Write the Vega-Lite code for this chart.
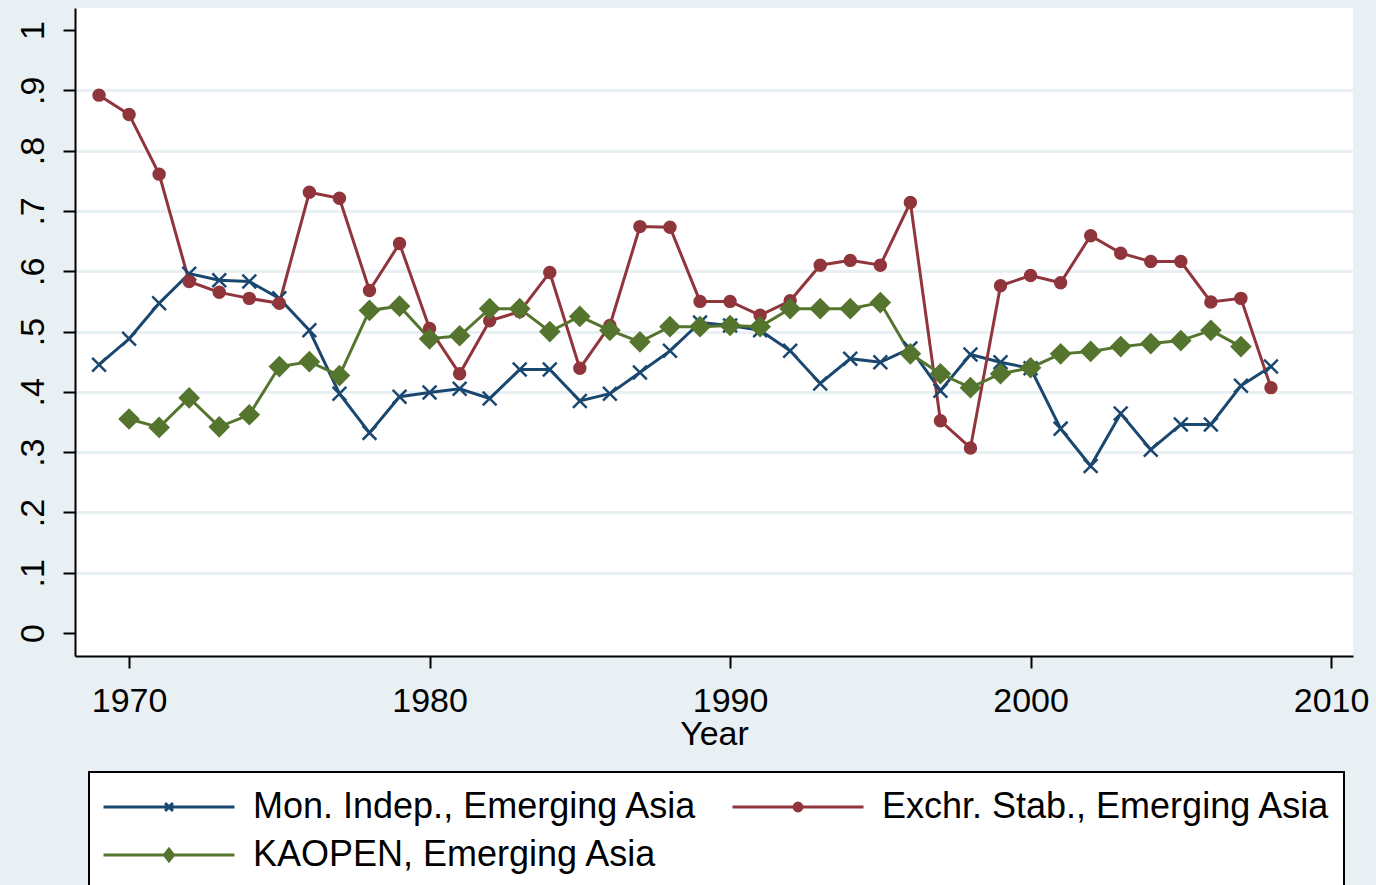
{
  "$schema": "https://vega.github.io/schema/vega-lite/v6.json",
  "width": 1278,
  "height": 648,
  "autosize": "none",
  "padding": {"left": 75, "top": 8, "right": 23, "bottom": 229},
  "background": "#e9f0f3",
  "config": {"font": "Liberation Sans", "view": {"fill": "white", "stroke": null}},
  "data": {"values": [
    {"year": 1969, "series": "Mon. Indep., Emerging Asia", "value": 0.445},
    {"year": 1970, "series": "Mon. Indep., Emerging Asia", "value": 0.488},
    {"year": 1971, "series": "Mon. Indep., Emerging Asia", "value": 0.547},
    {"year": 1972, "series": "Mon. Indep., Emerging Asia", "value": 0.596},
    {"year": 1973, "series": "Mon. Indep., Emerging Asia", "value": 0.585},
    {"year": 1974, "series": "Mon. Indep., Emerging Asia", "value": 0.583},
    {"year": 1975, "series": "Mon. Indep., Emerging Asia", "value": 0.555},
    {"year": 1976, "series": "Mon. Indep., Emerging Asia", "value": 0.502},
    {"year": 1977, "series": "Mon. Indep., Emerging Asia", "value": 0.397},
    {"year": 1978, "series": "Mon. Indep., Emerging Asia", "value": 0.332},
    {"year": 1979, "series": "Mon. Indep., Emerging Asia", "value": 0.392},
    {"year": 1980, "series": "Mon. Indep., Emerging Asia", "value": 0.399},
    {"year": 1981, "series": "Mon. Indep., Emerging Asia", "value": 0.405},
    {"year": 1982, "series": "Mon. Indep., Emerging Asia", "value": 0.389},
    {"year": 1983, "series": "Mon. Indep., Emerging Asia", "value": 0.437},
    {"year": 1984, "series": "Mon. Indep., Emerging Asia", "value": 0.437},
    {"year": 1985, "series": "Mon. Indep., Emerging Asia", "value": 0.385},
    {"year": 1986, "series": "Mon. Indep., Emerging Asia", "value": 0.397},
    {"year": 1987, "series": "Mon. Indep., Emerging Asia", "value": 0.432},
    {"year": 1988, "series": "Mon. Indep., Emerging Asia", "value": 0.468},
    {"year": 1989, "series": "Mon. Indep., Emerging Asia", "value": 0.515},
    {"year": 1990, "series": "Mon. Indep., Emerging Asia", "value": 0.510},
    {"year": 1991, "series": "Mon. Indep., Emerging Asia", "value": 0.502},
    {"year": 1992, "series": "Mon. Indep., Emerging Asia", "value": 0.468},
    {"year": 1993, "series": "Mon. Indep., Emerging Asia", "value": 0.414},
    {"year": 1994, "series": "Mon. Indep., Emerging Asia", "value": 0.455},
    {"year": 1995, "series": "Mon. Indep., Emerging Asia", "value": 0.449},
    {"year": 1996, "series": "Mon. Indep., Emerging Asia", "value": 0.472},
    {"year": 1997, "series": "Mon. Indep., Emerging Asia", "value": 0.402},
    {"year": 1998, "series": "Mon. Indep., Emerging Asia", "value": 0.462},
    {"year": 1999, "series": "Mon. Indep., Emerging Asia", "value": 0.449},
    {"year": 2000, "series": "Mon. Indep., Emerging Asia", "value": 0.439},
    {"year": 2001, "series": "Mon. Indep., Emerging Asia", "value": 0.339},
    {"year": 2002, "series": "Mon. Indep., Emerging Asia", "value": 0.277},
    {"year": 2003, "series": "Mon. Indep., Emerging Asia", "value": 0.364},
    {"year": 2004, "series": "Mon. Indep., Emerging Asia", "value": 0.304},
    {"year": 2005, "series": "Mon. Indep., Emerging Asia", "value": 0.346},
    {"year": 2006, "series": "Mon. Indep., Emerging Asia", "value": 0.346},
    {"year": 2007, "series": "Mon. Indep., Emerging Asia", "value": 0.410},
    {"year": 2008, "series": "Mon. Indep., Emerging Asia", "value": 0.442},
    {"year": 1969, "series": "Exchr. Stab., Emerging Asia", "value": 0.892},
    {"year": 1970, "series": "Exchr. Stab., Emerging Asia", "value": 0.860},
    {"year": 1971, "series": "Exchr. Stab., Emerging Asia", "value": 0.761},
    {"year": 1972, "series": "Exchr. Stab., Emerging Asia", "value": 0.583},
    {"year": 1973, "series": "Exchr. Stab., Emerging Asia", "value": 0.565},
    {"year": 1974, "series": "Exchr. Stab., Emerging Asia", "value": 0.555},
    {"year": 1975, "series": "Exchr. Stab., Emerging Asia", "value": 0.547},
    {"year": 1976, "series": "Exchr. Stab., Emerging Asia", "value": 0.731},
    {"year": 1977, "series": "Exchr. Stab., Emerging Asia", "value": 0.721},
    {"year": 1978, "series": "Exchr. Stab., Emerging Asia", "value": 0.568},
    {"year": 1979, "series": "Exchr. Stab., Emerging Asia", "value": 0.646},
    {"year": 1980, "series": "Exchr. Stab., Emerging Asia", "value": 0.505},
    {"year": 1981, "series": "Exchr. Stab., Emerging Asia", "value": 0.430},
    {"year": 1982, "series": "Exchr. Stab., Emerging Asia", "value": 0.518},
    {"year": 1983, "series": "Exchr. Stab., Emerging Asia", "value": 0.533},
    {"year": 1984, "series": "Exchr. Stab., Emerging Asia", "value": 0.598},
    {"year": 1985, "series": "Exchr. Stab., Emerging Asia", "value": 0.439},
    {"year": 1986, "series": "Exchr. Stab., Emerging Asia", "value": 0.510},
    {"year": 1987, "series": "Exchr. Stab., Emerging Asia", "value": 0.674},
    {"year": 1988, "series": "Exchr. Stab., Emerging Asia", "value": 0.673},
    {"year": 1989, "series": "Exchr. Stab., Emerging Asia", "value": 0.550},
    {"year": 1990, "series": "Exchr. Stab., Emerging Asia", "value": 0.550},
    {"year": 1991, "series": "Exchr. Stab., Emerging Asia", "value": 0.527},
    {"year": 1992, "series": "Exchr. Stab., Emerging Asia", "value": 0.551},
    {"year": 1993, "series": "Exchr. Stab., Emerging Asia", "value": 0.610},
    {"year": 1994, "series": "Exchr. Stab., Emerging Asia", "value": 0.618},
    {"year": 1995, "series": "Exchr. Stab., Emerging Asia", "value": 0.610},
    {"year": 1996, "series": "Exchr. Stab., Emerging Asia", "value": 0.714},
    {"year": 1997, "series": "Exchr. Stab., Emerging Asia", "value": 0.352},
    {"year": 1998, "series": "Exchr. Stab., Emerging Asia", "value": 0.307},
    {"year": 1999, "series": "Exchr. Stab., Emerging Asia", "value": 0.576},
    {"year": 2000, "series": "Exchr. Stab., Emerging Asia", "value": 0.593},
    {"year": 2001, "series": "Exchr. Stab., Emerging Asia", "value": 0.581},
    {"year": 2002, "series": "Exchr. Stab., Emerging Asia", "value": 0.659},
    {"year": 2003, "series": "Exchr. Stab., Emerging Asia", "value": 0.630},
    {"year": 2004, "series": "Exchr. Stab., Emerging Asia", "value": 0.616},
    {"year": 2005, "series": "Exchr. Stab., Emerging Asia", "value": 0.616},
    {"year": 2006, "series": "Exchr. Stab., Emerging Asia", "value": 0.549},
    {"year": 2007, "series": "Exchr. Stab., Emerging Asia", "value": 0.555},
    {"year": 2008, "series": "Exchr. Stab., Emerging Asia", "value": 0.407},
    {"year": 1970, "series": "KAOPEN, Emerging Asia", "value": 0.355},
    {"year": 1971, "series": "KAOPEN, Emerging Asia", "value": 0.341},
    {"year": 1972, "series": "KAOPEN, Emerging Asia", "value": 0.390},
    {"year": 1973, "series": "KAOPEN, Emerging Asia", "value": 0.342},
    {"year": 1974, "series": "KAOPEN, Emerging Asia", "value": 0.362},
    {"year": 1975, "series": "KAOPEN, Emerging Asia", "value": 0.442},
    {"year": 1976, "series": "KAOPEN, Emerging Asia", "value": 0.450},
    {"year": 1977, "series": "KAOPEN, Emerging Asia", "value": 0.427},
    {"year": 1978, "series": "KAOPEN, Emerging Asia", "value": 0.535},
    {"year": 1979, "series": "KAOPEN, Emerging Asia", "value": 0.542},
    {"year": 1980, "series": "KAOPEN, Emerging Asia", "value": 0.488},
    {"year": 1981, "series": "KAOPEN, Emerging Asia", "value": 0.493},
    {"year": 1982, "series": "KAOPEN, Emerging Asia", "value": 0.538},
    {"year": 1983, "series": "KAOPEN, Emerging Asia", "value": 0.538},
    {"year": 1984, "series": "KAOPEN, Emerging Asia", "value": 0.500},
    {"year": 1985, "series": "KAOPEN, Emerging Asia", "value": 0.525},
    {"year": 1986, "series": "KAOPEN, Emerging Asia", "value": 0.502},
    {"year": 1987, "series": "KAOPEN, Emerging Asia", "value": 0.483},
    {"year": 1988, "series": "KAOPEN, Emerging Asia", "value": 0.508},
    {"year": 1989, "series": "KAOPEN, Emerging Asia", "value": 0.508},
    {"year": 1990, "series": "KAOPEN, Emerging Asia", "value": 0.510},
    {"year": 1991, "series": "KAOPEN, Emerging Asia", "value": 0.508},
    {"year": 1992, "series": "KAOPEN, Emerging Asia", "value": 0.538},
    {"year": 1993, "series": "KAOPEN, Emerging Asia", "value": 0.538},
    {"year": 1994, "series": "KAOPEN, Emerging Asia", "value": 0.538},
    {"year": 1995, "series": "KAOPEN, Emerging Asia", "value": 0.548},
    {"year": 1996, "series": "KAOPEN, Emerging Asia", "value": 0.463},
    {"year": 1997, "series": "KAOPEN, Emerging Asia", "value": 0.430},
    {"year": 1998, "series": "KAOPEN, Emerging Asia", "value": 0.407},
    {"year": 1999, "series": "KAOPEN, Emerging Asia", "value": 0.430},
    {"year": 2000, "series": "KAOPEN, Emerging Asia", "value": 0.440},
    {"year": 2001, "series": "KAOPEN, Emerging Asia", "value": 0.463},
    {"year": 2002, "series": "KAOPEN, Emerging Asia", "value": 0.467},
    {"year": 2003, "series": "KAOPEN, Emerging Asia", "value": 0.475},
    {"year": 2004, "series": "KAOPEN, Emerging Asia", "value": 0.480},
    {"year": 2005, "series": "KAOPEN, Emerging Asia", "value": 0.485},
    {"year": 2006, "series": "KAOPEN, Emerging Asia", "value": 0.502},
    {"year": 2007, "series": "KAOPEN, Emerging Asia", "value": 0.475}
  ]},
  "encoding": {
    "x": {
      "field": "year", "type": "quantitative",
      "scale": {"domain": [1968.2, 2010.73], "nice": false, "zero": false},
      "axis": {
        "values": [1970, 1980, 1990, 2000, 2010], "format": "d", "title": "Year", "grid": false,
        "domainColor": "#000", "domainWidth": 2, "tickColor": "#000", "tickWidth": 2, "tickSize": 12,
        "labelFontSize": 34, "labelColor": "#000", "labelBaseline": "alphabetic", "labelPadding": 43,
        "labelFlush": false, "labelOverlap": false,
        "titleFontSize": 34, "titleFontWeight": "normal", "titleColor": "#000",
        "titleBaseline": "alphabetic", "titleY": 88
      }
    },
    "y": {
      "field": "value", "type": "quantitative",
      "scale": {"domain": [-0.038, 1.0365], "nice": false, "zero": false},
      "axis": {
        "values": [0, 0.1, 0.2, 0.3, 0.4, 0.5, 0.6, 0.7, 0.8, 0.9, 1],
        "labelExpr": "datum.value == 0 ? '0' : datum.value == 1 ? '1' : replace(format(datum.value, '.1f'), '0.', '.')",
        "title": null, "labelAngle": -90, "labelAlign": "center", "labelBaseline": "alphabetic",
        "labelPadding": 20, "labelFontSize": 34, "labelColor": "#000", "labelOverlap": false, "labelFlush": false,
        "domainColor": "#000", "domainWidth": 2, "tickColor": "#000", "tickWidth": 2, "tickSize": 12,
        "grid": true, "gridColor": "#e9f0f3", "gridWidth": 3,
        "gridOpacity": {"condition": {"test": "datum.value < 0.05 || datum.value > 0.95", "value": 0}, "value": 1}
      }
    }
  },
  "layer": [
    {
      "mark": {"type": "line", "strokeWidth": 3},
      "encoding": {
        "color": {
          "field": "series", "type": "nominal",
          "scale": {"domain": ["Mon. Indep., Emerging Asia", "Exchr. Stab., Emerging Asia", "KAOPEN, Emerging Asia"], "range": ["#1a476f", "#90353b", "#55752f"]},
          "legend": {
            "orient": "none", "legendX": 14, "legendY": 764, "columns": 2, "direction": "horizontal", "title": null,
            "fillColor": "white", "strokeColor": "#000", "padding": 13,
            "rowPadding": 4, "columnPadding": 33, "clipHeight": 44,
            "symbolType": "M-1,0H1", "symbolSize": 17161, "symbolStrokeWidth": 3,
            "labelFontSize": 36, "labelColor": "#000", "labelOffset": 17, "labelLimit": 1000,
            "encode": {
              "legend": {"update": {"strokeWidth": {"value": 2}}},
              "symbols": {"update": {
                "shape": {"signal": "datum.value === 'Mon. Indep., Emerging Asia' ? 'M-1,0H1M-0.06,-0.06L0.06,0.06M-0.06,0.06L0.06,-0.06' : datum.value === 'Exchr. Stab., Emerging Asia' ? 'M-1,0H1M-0.06,0A0.06,0.06 0 1,0 0.06,0A0.06,0.06 0 1,0 -0.06,0Z' : 'M-1,0H1M0,-0.09L0.07,0L0,0.09L-0.07,0Z'"},
                "fill": {"signal": "scale('color', datum.value)"}
              }}
            }
          }
        }
      }
    },
    {
      "mark": {"type": "point", "filled": true, "strokeWidth": 2.5, "opacity": 1},
      "encoding": {
        "shape": {"condition": [
          {"test": "datum.series === 'Mon. Indep., Emerging Asia'", "value": "M-1,-1L1,1M-1,1L1,-1"},
          {"test": "datum.series === 'Exchr. Stab., Emerging Asia'", "value": "circle"}
        ], "value": "diamond"},
        "size": {"condition": [
          {"test": "datum.series === 'Mon. Indep., Emerging Asia'", "value": 190},
          {"test": "datum.series === 'Exchr. Stab., Emerging Asia'", "value": 120}
        ], "value": 330},
        "fill": {"condition": [
          {"test": "datum.series === 'Mon. Indep., Emerging Asia'", "value": "#1a476f"},
          {"test": "datum.series === 'Exchr. Stab., Emerging Asia'", "value": "#90353b"}
        ], "value": "#55752f"},
        "stroke": {"condition": [
          {"test": "datum.series === 'Mon. Indep., Emerging Asia'", "value": "#1a476f"},
          {"test": "datum.series === 'Exchr. Stab., Emerging Asia'", "value": "#90353b"}
        ], "value": "#55752f"}
      }
    }
  ]
}
